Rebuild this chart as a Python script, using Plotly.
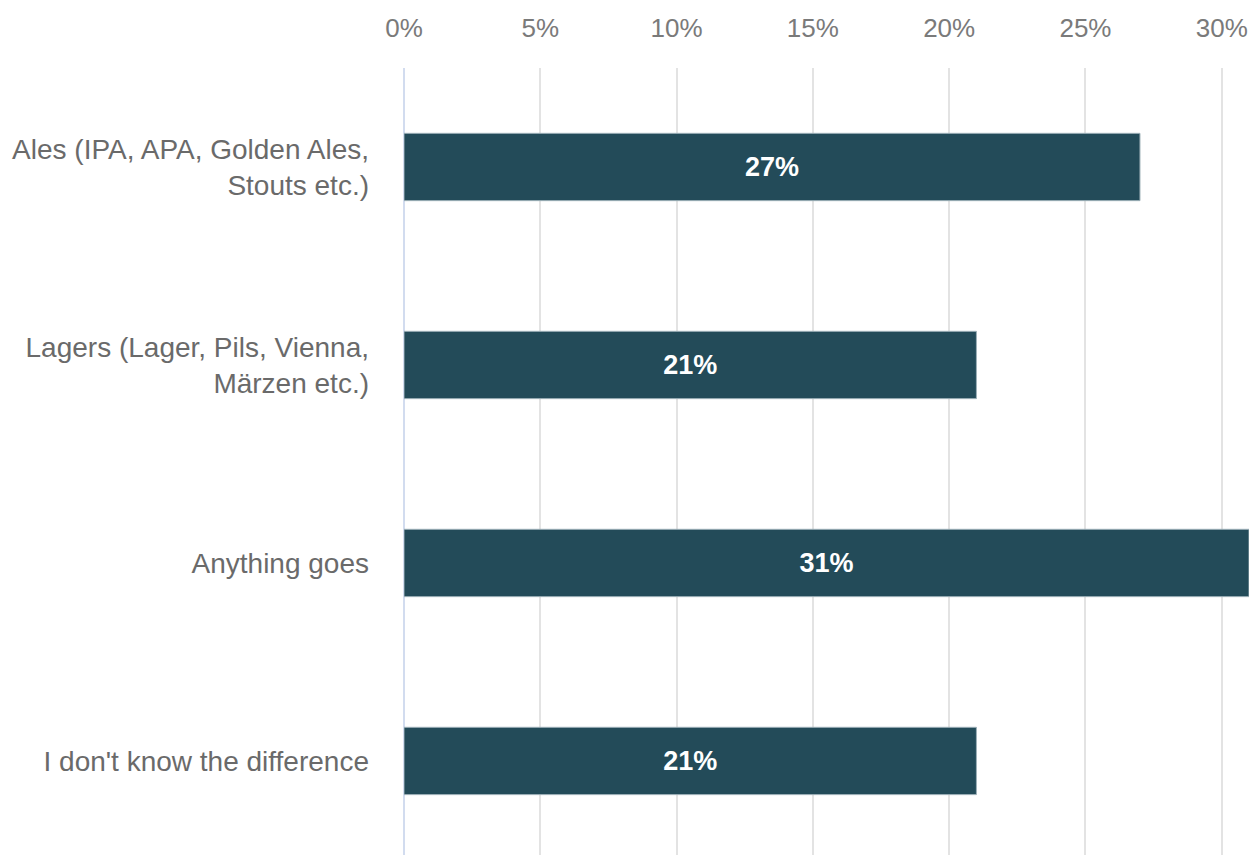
import plotly.graph_objects as go

# Survey answers and their shares
categories = [
    "Ales (IPA, APA, Golden Ales,<br>Stouts etc.)",
    "Lagers (Lager, Pils, Vienna,<br>Märzen etc.)",
    "Anything goes",
    "I don't know the difference",
]
shares = [0.27, 0.21, 0.31, 0.21]
tick_values = [0, 0.05, 0.10, 0.15, 0.20, 0.25, 0.30]
tick_labels = ["0%", "5%", "10%", "15%", "20%", "25%", "30%"]

BAR = "#234b59"
TEXT = "#6a6a6a"
AXIS_TEXT = "#7a7a7a"
FONT = "Liberation Sans, Arial, sans-serif"

fig = go.Figure(
    go.Bar(
        x=shares,
        y=categories,
        orientation="h",
        width=0.34,
        marker=dict(color=BAR, line=dict(color="#9db0b8", width=1)),
        text=[f"{round(v * 100)}%" for v in shares],
        textposition="inside",
        insidetextanchor="middle",
        textfont=dict(family=FONT, size=27, color="white", weight="bold"),
        cliponaxis=False,
    )
)

fig.update_layout(
    width=1259,
    height=855,
    margin=dict(l=404, r=10, t=68, b=0),
    paper_bgcolor="white",
    plot_bgcolor="white",
    showlegend=False,
    font=dict(family=FONT, size=27, color=TEXT),
    xaxis=dict(
        side="top",
        range=[0, 0.31],
        tickvals=tick_values,
        ticktext=tick_labels,
        showgrid=True,
        gridcolor="#e3e3e3",
        gridwidth=2,
        zeroline=True,
        zerolinecolor="#d2dcef",
        zerolinewidth=2,
        ticks="",
        ticklabelstandoff=25,
        tickfont=dict(family=FONT, size=26, color=AXIS_TEXT),
        fixedrange=True,
    ),
    yaxis=dict(
        type="category",
        categoryorder="array",
        categoryarray=categories,
        range=[3.475, -0.5],
        showgrid=False,
        zeroline=False,
        ticks="",
        ticklabelstandoff=34,
        tickfont=dict(family=FONT, size=28, color=TEXT),
        fixedrange=True,
    ),
)

fig.write_html("out.html", config={"displayModeBar": False})
